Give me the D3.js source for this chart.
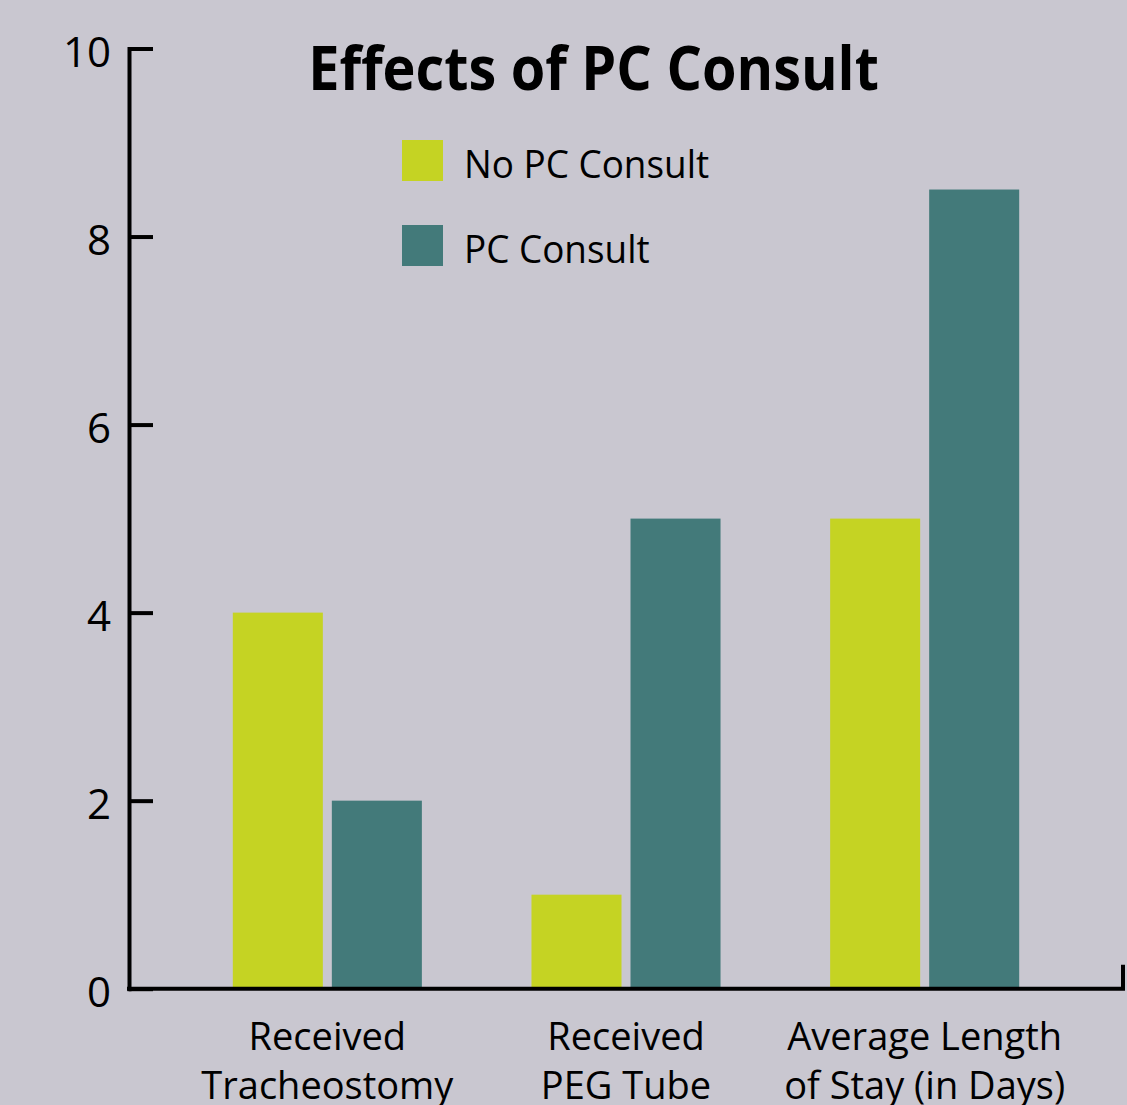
<!DOCTYPE html>
<html><head><meta charset="utf-8">
<script src="https://cdn.jsdelivr.net/npm/d3@7"></script>
<style>html,body{margin:0;padding:0;background:#c9c7d0;} svg{display:block;}</style>
</head><body>
<script>
const categories = [["Received","Tracheostomy"],["Received","PEG Tube"],["Average Length","of Stay (in Days)"]];
const seriesNames = ["No PC Consult","PC Consult"];
const noPC = [4, 1, 5];
const pc = [2, 5, 8.5];
const yTicks = [0, 2, 4, 6, 8, 10];
const colors = ["#c5d323", "#437a7a"];

const W = 1127, H = 1105;
const svg = d3.select("body").append("svg").attr("width", W).attr("height", H);
svg.append("rect").attr("width", W).attr("height", H).attr("fill", "#c9c7d0");

const axisX = 129, zeroY = 988.7, topY = 48.5, rightX = 1123;
const y = d3.scaleLinear().domain([0, 10]).range([zeroY, topY]);
const catKeys = categories.map((d, i) => i);
const x0 = d3.scaleBand().domain(catKeys).range([178, 1074]).paddingInner(0.367).paddingOuter(0.1835);
const x1 = d3.scaleBand().domain([0, 1]).range([0, x0.bandwidth()]).paddingInner(0.0909).paddingOuter(0);

const font = "'Open Sans', 'Noto Sans', sans-serif";

// bars
const rows = catKeys.map(i => [noPC[i], pc[i]]);
const g = svg.append("g");
g.selectAll("g.grp").data(rows).join("g").attr("class", "grp")
  .attr("transform", (d, i) => `translate(${x0(i)},0)`)
  .selectAll("rect").data(d => d.map((v, j) => ({v, j}))).join("rect")
  .attr("x", d => x1(d.j)).attr("width", x1.bandwidth())
  .attr("y", d => y(d.v)).attr("height", d => y(0) - y(d.v))
  .attr("fill", d => colors[d.j]);

// y axis
const yAxis = d3.axisLeft(y).tickValues(yTicks).tickFormat(d3.format("d"))
  .tickSizeInner(-24).tickSizeOuter(0).tickPadding(18);
const ya = svg.append("g").attr("transform", `translate(${axisX},0)`).call(yAxis);
ya.select(".domain").attr("stroke", "#000").attr("stroke-width", 4).attr("stroke-linecap", "square");
ya.selectAll(".tick line").attr("stroke", "#000").attr("stroke-width", 4);
ya.selectAll(".tick text").attr("font-family", font).attr("font-size", 42).attr("fill", "#000")
  .attr("dy", "0.42em").attr("x", -18);

// x axis line with right end tick
svg.append("path")
  .attr("d", d3.line()([[axisX, y(0)], [rightX, y(0)], [rightX, y(0) - 22]]))
  .attr("fill", "none").attr("stroke", "#000").attr("stroke-width", 4).attr("stroke-linecap", "square");

// category labels
const labG = svg.append("g");
categories.forEach((lines, i) => {
  const cx = x0(i) + x0.bandwidth() / 2;
  lines.forEach((t, k) => {
    labG.append("text").attr("class", "cat").attr("x", cx).attr("y", 1050 + k * 49)
      .attr("text-anchor", "middle").attr("font-family", font).attr("font-size", 38)
      .attr("fill", "#000").text(t);
  });
});

// title
svg.append("text").attr("class", "title").attr("x", 593.5).attr("y", 89.5)
  .attr("text-anchor", "middle").attr("font-family", font).attr("font-weight", 700)
  .attr("font-size", 60).attr("fill", "#000").text("Effects of PC Consult");

// legend
const leg = svg.append("g").attr("transform", "translate(402,140)");
seriesNames.forEach((n, i) => {
  leg.append("rect").attr("x", 0).attr("y", i * 85).attr("width", 41).attr("height", 41).attr("fill", colors[i]);
  leg.append("text").attr("class", "leg").attr("x", 62).attr("y", i * 85 + 38)
    .attr("font-family", font).attr("font-size", 38).attr("fill", "#000").text(n);
});

// slight condensing to match the original humanist face widths
svg.selectAll("text.title, text.leg").each(function() {
  const L = this.getComputedTextLength();
  const f = d3.select(this).classed("title") ? 0.93 : 0.97;
  d3.select(this).attr("textLength", L * f).attr("lengthAdjust", "spacingAndGlyphs");
});
</script>
</body></html>
